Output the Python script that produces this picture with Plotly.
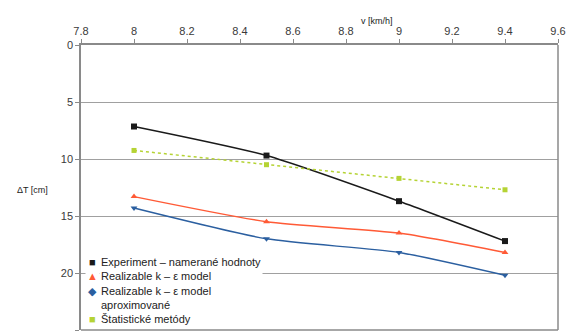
import plotly.graph_objects as go

speeds = [8.0, 8.5, 9.0, 9.4]
experiment = [7.15, 9.7, 13.7, 17.2]
realizable = [13.3, 15.5, 16.5, 18.2]
realizable_approx = [14.3, 17.0, 18.2, 20.2]
statistical = [9.25, 10.5, 11.7, 12.7]

x_ticks = [7.8, 8.0, 8.2, 8.4, 8.6, 8.8, 9.0, 9.2, 9.4, 9.6]
x_labels = ["7.8", "8", "8.2", "8.4", "8.6", "8.8", "9", "9.2", "9.4", "9.6"]
y_ticks = [0, 5, 10, 15, 20, 25]

names = ["Experiment – namerané hodnoty", "Realizable k – ε model",
         "Realizable k – ε model aproximované", "Štatistické metódy"]
colors = ["#1a1a1a", "#ff5a36", "#2b5fa0", "#b5d334"]

fig = go.Figure()
fig.add_trace(go.Scatter(x=speeds, y=experiment, name=names[0], mode="lines+markers",
                         line=dict(color=colors[0], width=1.5, shape="spline", smoothing=0.6),
                         marker=dict(symbol="square", size=6, color=colors[0])))
fig.add_trace(go.Scatter(x=speeds, y=realizable, name=names[1], mode="lines+markers",
                         line=dict(color=colors[1], width=1.5, shape="spline", smoothing=0.6),
                         marker=dict(symbol="triangle-up", size=6, color=colors[1])))
fig.add_trace(go.Scatter(x=speeds, y=realizable_approx, name=names[2], mode="lines+markers",
                         line=dict(color=colors[2], width=1.5, shape="spline", smoothing=0.6),
                         marker=dict(symbol="triangle-down", size=6, color=colors[2])))
fig.add_trace(go.Scatter(x=speeds, y=statistical, name=names[3], mode="lines+markers",
                         line=dict(color=colors[3], width=1.5, dash="dot"),
                         marker=dict(symbol="square", size=5, color=colors[3])))

legend_text = "<br>".join([
    names[0], names[1], "Realizable k – ε model", "aproximované", names[3]])
legend_syms = "<br>".join([
    f"<span style='color:{colors[0]}'>■</span>",
    f"<span style='color:{colors[1]}'>▲</span>",
    f"<span style='color:{colors[2]}'>◆</span>",
    "&nbsp;",
    f"<span style='color:{colors[3]}'>■</span>",
])

fig.update_layout(
    width=568, height=334,
    margin=dict(l=81, r=10, t=45, b=4),
    paper_bgcolor="white", plot_bgcolor="white",
    font=dict(family="Liberation Sans, Arial, sans-serif", size=11, color="#333333"),
    showlegend=False,
    xaxis=dict(side="top", range=[7.8, 9.6], tickvals=x_ticks, ticktext=x_labels,
               showgrid=False, zeroline=False, showline=True, linecolor="#8a8a8a",
               linewidth=1.5, ticks="outside", ticklen=4, tickcolor="#8a8a8a",
               automargin=False, tickfont=dict(size=11, color="#3a3a3a")),
    yaxis=dict(range=[25, 0], tickvals=y_ticks, showgrid=True, gridcolor="#a0a0a0",
               gridwidth=1.3, zeroline=False, showline=True, linecolor="#8a8a8a",
               linewidth=1.5, ticks="outside", ticklen=4, tickcolor="#8a8a8a",
               automargin=False, tickfont=dict(size=11, color="#3a3a3a")),
    annotations=[
        dict(text="v [km/h]", xref="paper", yref="paper", x=0.62, y=1.0, yshift=17,
             showarrow=False, font=dict(size=9, color="#222222"),
             xanchor="center", yanchor="bottom"),
        dict(text="ΔT [cm]", xref="paper", yref="paper", x=-0.065, y=0.49,
             showarrow=False, font=dict(size=9, color="#222222"),
             xanchor="right", yanchor="middle"),
        dict(text=legend_text, xref="paper", yref="paper", x=0.038, y=0.268,
             xanchor="left", yanchor="top", align="left", showarrow=False,
             bgcolor="white", borderpad=1, font=dict(size=11, color="#222222")),
        dict(text=legend_syms, xref="paper", yref="paper", x=0.025, y=0.268,
             xanchor="center", yanchor="top", align="center", showarrow=False,
             bgcolor="white", borderpad=1, font=dict(size=11, color="#222222")),
    ],
    shapes=[
        dict(type="line", xref="paper", yref="paper", x0=1, x1=1, y0=0, y1=1,
             line=dict(color="#8a8a8a", width=1.5)),
        dict(type="line", xref="paper", yref="paper", x0=0, x1=1, y0=0, y1=0,
             line=dict(color="#8a8a8a", width=1.5)),
    ],
)

fig.write_html("out.html", config={"displayModeBar": False},
               post_script="document.body.style.margin='0';document.body.style.overflow='hidden';")
